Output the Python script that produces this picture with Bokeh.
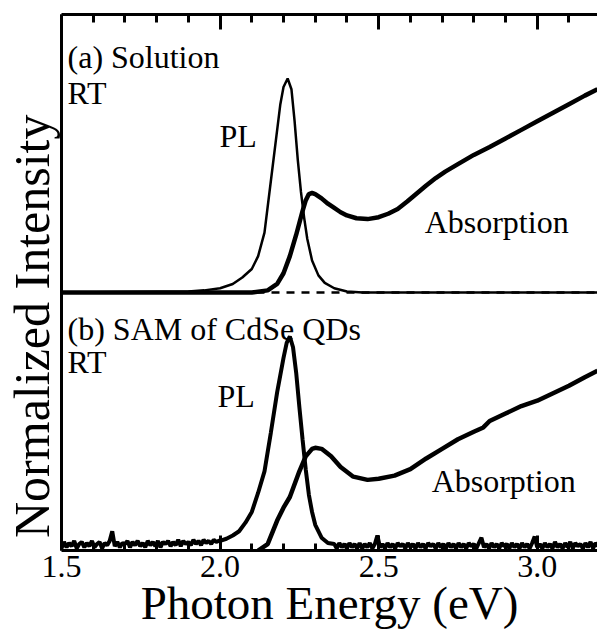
import numpy as np
from bokeh.plotting import figure
from bokeh.models import Range1d, LinearAxis, FixedTicker, Label
from bokeh.embed import file_html
from bokeh.resources import INLINE

# ---------------- data ----------------
# Panel (a): solution, normalized
pl_a_energy = [1.50, 1.90, 1.95, 2.00, 2.04, 2.07, 2.10, 2.12, 2.14, 2.16, 2.18, 2.19, 2.20,
               2.213, 2.225, 2.235, 2.245, 2.255, 2.265, 2.275, 2.29, 2.31, 2.33, 2.36, 2.40, 2.45, 3.19]
pl_a_int = [0.0, 0.005, 0.01, 0.02, 0.04, 0.07, 0.11, 0.17, 0.28, 0.52, 0.76, 0.88, 0.96,
            1.0, 0.95, 0.80, 0.62, 0.47, 0.35, 0.25, 0.15, 0.08, 0.045, 0.02, 0.005, 0.0, 0.0]

abs_a_energy = [1.50, 2.10, 2.15, 2.18, 2.20, 2.22, 2.24, 2.26, 2.27, 2.28, 2.29, 2.30, 2.32,
                2.34, 2.36, 2.38, 2.40, 2.43, 2.465, 2.50, 2.53, 2.56, 2.59, 2.62, 2.65, 2.68,
                2.71, 2.75, 2.80, 2.85, 2.90, 2.95, 3.00, 3.05, 3.10, 3.15, 3.19]
abs_a_int = [0.0, 0.0, 0.01, 0.04, 0.09, 0.17, 0.27, 0.38, 0.43, 0.46, 0.465, 0.46, 0.44,
             0.415, 0.395, 0.375, 0.36, 0.347, 0.343, 0.352, 0.368, 0.39, 0.425, 0.463, 0.50, 0.535,
             0.565, 0.60, 0.643, 0.68, 0.72, 0.76, 0.80, 0.84, 0.88, 0.92, 0.95]

# Panel (b): SAM of CdSe QDs, normalized
pl_b_noise_left_start = 1.50
pl_b_noise_step = 0.008
pl_b_noise_left = [0.01, 0.04, 0.015, 0.035, 0.02, 0.045, 0.01, 0.03, 0.04, 0.015,
                   0.035, 0.02, 0.045, 0.015, 0.03, 0.04, 0.01, 0.035, 0.025, 0.045,
                   0.09, 0.02, 0.04, 0.015, 0.035, 0.03, 0.045, 0.015, 0.04, 0.025,
                   0.045, 0.02, 0.035, 0.015, 0.045, 0.025, 0.04, 0.02, 0.045, 0.015,
                   0.04, 0.03, 0.045, 0.02, 0.04, 0.025, 0.05, 0.02, 0.045, 0.03,
                   0.04, 0.025, 0.05, 0.03, 0.045, 0.025, 0.05, 0.035, 0.045, 0.03,
                   0.05, 0.04, 0.045]
pl_b_core_energy = [2.00, 2.02, 2.04, 2.06, 2.08, 2.10, 2.12, 2.14, 2.16, 2.18, 2.20, 2.21,
                    2.22, 2.23, 2.24, 2.25, 2.26, 2.27, 2.28, 2.29, 2.30, 2.32, 2.34]
pl_b_core_int = [0.045, 0.055, 0.07, 0.09, 0.13, 0.18, 0.27, 0.37, 0.55, 0.74, 0.90, 0.97,
                 1.0, 0.95, 0.83, 0.67, 0.52, 0.38, 0.26, 0.18, 0.12, 0.06, 0.035]
pl_b_noise_right_start = 2.36
pl_b_noise_right = [0.03, 0.01, 0.035, 0.015, 0.03, 0.01, 0.035, 0.015, 0.03, 0.01,
                    0.035, 0.01, 0.03, 0.015, 0.035, 0.01, 0.03, 0.07, 0.015, 0.03,
                    0.01, 0.035, 0.015, 0.03, 0.01, 0.035, 0.02, 0.03, 0.01, 0.035,
                    0.015, 0.03, 0.01, 0.035, 0.015, 0.03, 0.01, 0.035, 0.02, 0.03,
                    0.01, 0.035, 0.015, 0.03, 0.01, 0.035, 0.015, 0.03, 0.01, 0.035,
                    0.015, 0.03, 0.01, 0.035, 0.02, 0.03, 0.01, 0.035, 0.06, 0.015,
                    0.03, 0.01, 0.035, 0.015, 0.03, 0.01, 0.035, 0.02, 0.03, 0.01,
                    0.035, 0.015, 0.03, 0.01, 0.035, 0.015, 0.03, 0.01, 0.035, 0.065,
                    0.015, 0.03, 0.01, 0.035, 0.015, 0.03, 0.01, 0.04, 0.015, 0.03,
                    0.01, 0.035, 0.015, 0.04, 0.01, 0.035, 0.02, 0.03, 0.01, 0.035,
                    0.015, 0.04, 0.01, 0.035, 0.02]

abs_b_energy = [2.12, 2.15, 2.18, 2.20, 2.22, 2.25, 2.27, 2.29, 2.30, 2.32, 2.35, 2.38, 2.42,
                2.465, 2.50, 2.55, 2.60, 2.65, 2.70, 2.75, 2.80, 2.83, 2.85, 2.90, 2.95, 3.00,
                3.05, 3.10, 3.15, 3.19]
abs_b_int = [0.0, 0.03, 0.14, 0.20, 0.25, 0.37, 0.44, 0.475, 0.48, 0.475, 0.44, 0.39, 0.345,
             0.33, 0.335, 0.35, 0.38, 0.43, 0.475, 0.52, 0.555, 0.575, 0.605, 0.64, 0.675, 0.70,
             0.735, 0.77, 0.81, 0.84]

x_tick_values = [1.5, 2.0, 2.5, 3.0]
x_tick_labels = ["1.5", "2.0", "2.5", "3.0"]
x_minor_ticks = [1.6, 1.7, 1.8, 1.9, 2.1, 2.2, 2.3, 2.4, 2.6, 2.7, 2.8, 2.9, 3.1]

x_title = "Photon Energy (eV)"
y_title = "Normalized Intensity"

# ---------------- layout / style ----------------
PANEL_A_OFFSET = 1.2056   # vertical offset of panel (a) baseline
SERIF = "Liberation Serif"
INK = "black"

pl_b_energy = list(pl_b_noise_left_start + pl_b_noise_step * np.arange(len(pl_b_noise_left))) \
    + pl_b_core_energy \
    + list(pl_b_noise_right_start + pl_b_noise_step * np.arange(len(pl_b_noise_right)))
pl_b_int = pl_b_noise_left + pl_b_core_int + pl_b_noise_right

p = figure(width=597, height=631, output_backend="svg", toolbar_location=None,
           x_range=Range1d(1.5, 3.19), y_range=Range1d(0, 2.5047),
           x_axis_location=None, y_axis_location=None,
           min_border_left=61, min_border_top=14, min_border_right=0, min_border_bottom=81)
p.outline_line_color = None
p.grid.grid_line_color = None
p.background_fill_color = "white"
p.border_fill_color = "white"

ticker = FixedTicker(ticks=x_tick_values, minor_ticks=x_minor_ticks)
overrides = {v: s for v, s in zip(x_tick_values, x_tick_labels)}

bottom = LinearAxis(ticker=ticker, major_label_overrides=overrides)
top = LinearAxis(ticker=ticker, major_label_text_font_size="0px", major_label_standoff=0)
left = LinearAxis(ticker=FixedTicker(ticks=[]), major_label_text_font_size="0px",
                  major_label_standoff=0)
for ax in (bottom, top, left):
    ax.axis_line_width = 3
    ax.axis_line_color = INK
    ax.major_tick_line_width = 3
    ax.minor_tick_line_width = 3
    ax.major_tick_line_color = INK
    ax.minor_tick_line_color = INK
    ax.major_tick_in = 15
    ax.major_tick_out = 0
    ax.minor_tick_in = 8
    ax.minor_tick_out = 0
    ax.axis_label_text_font = SERIF
    ax.axis_label_text_font_style = "normal"
    ax.axis_label_text_color = INK
bottom.major_label_text_font = SERIF
bottom.major_label_text_font_size = "32px"
bottom.major_label_text_color = INK
bottom.major_label_text_line_height = 1.0
bottom.major_label_standoff = 5
bottom.minor_tick_in = 7
bottom.axis_label = x_title
bottom.axis_label_text_font_size = "47px"
bottom.axis_label_text_line_height = 1.0
bottom.axis_label_standoff = -3
# trailing no-break spaces shift the centred title down, as in the reference
left.axis_label = y_title + "\u00a0" * 7
left.axis_label_text_font_size = "50px"
left.axis_label_standoff = 2
p.add_layout(bottom, "below")
p.add_layout(top, "above")
p.add_layout(left, "left")

# baseline of panel (a)
p.line([1.5, 3.19], [PANEL_A_OFFSET, PANEL_A_OFFSET], line_color=INK, line_width=2.5,
       line_dash="8 7")

p.line(pl_a_energy, [v + PANEL_A_OFFSET for v in pl_a_int], line_color=INK, line_width=2.5)
p.line(abs_a_energy, [v + PANEL_A_OFFSET for v in abs_a_int], line_color=INK, line_width=4.5)
p.line(pl_b_energy, pl_b_int, line_color=INK, line_width=4)
p.line(abs_b_energy, abs_b_int, line_color=INK, line_width=4.5)

def add_text(x, y, text, size="32px", **kw):
    p.add_layout(Label(x=x, y=y, text=text, text_font=SERIF, text_font_size=size,
                       text_color=INK, text_baseline="alphabetic", **kw))

add_text(1.519, 2.304, "(a) Solution")
add_text(1.519, 2.140, "RT")
add_text(1.998, 1.935, "PL")
add_text(2.645, 1.533, "Absorption")
add_text(1.519, 1.037, "(b) SAM of CdSe QDs")
add_text(1.519, 0.879, "RT")
add_text(1.992, 0.724, "PL")
add_text(2.667, 0.327, "Absorption")

open("out.html", "w").write(file_html(p, INLINE))
